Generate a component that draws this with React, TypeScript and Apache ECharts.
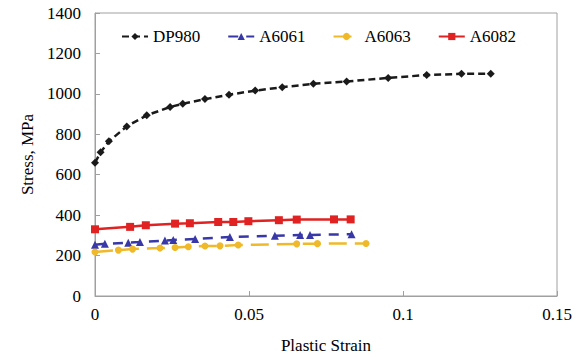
import React, { useEffect, useRef } from "react";
import * as echarts from "echarts";

const dp980Strain = [0, 0.0018, 0.0045, 0.0103, 0.0168, 0.0244, 0.0285, 0.0357, 0.0435, 0.052, 0.0608, 0.0709, 0.0817, 0.0952, 0.1077, 0.119, 0.1285];
const dp980Stress = [659, 711, 765, 839, 894, 935, 951, 974, 996, 1016, 1033, 1050, 1061, 1079, 1093, 1099, 1099];

const a6061Strain = [0, 0.0032, 0.0108, 0.0146, 0.0227, 0.0254, 0.0325, 0.0438, 0.0584, 0.0666, 0.0698, 0.0833];
const a6061Stress = [254, 258, 264, 267, 274, 277, 282, 292, 298, 302, 302, 306];

const a6063Strain = [0, 0.0076, 0.0122, 0.0211, 0.026, 0.0303, 0.0357, 0.0406, 0.0465, 0.0655, 0.0722, 0.088];
const a6063Stress = [218, 227, 232, 237, 240, 244, 247, 248, 252, 258, 259, 260];

const a6082Strain = [0, 0.0114, 0.0165, 0.026, 0.0308, 0.04, 0.0449, 0.0498, 0.0597, 0.0655, 0.0776, 0.083];
const a6082Stress = [330, 342, 350, 358, 360, 366, 366, 370, 375, 378, 379, 379];

const seriesNames = ["DP980", "A6061", "A6063", "A6082"];

const pair = (xs: number[], ys: number[]) => xs.map((x, i) => [x, ys[i]]);

export default function App() {
  const ref = useRef<HTMLDivElement>(null);
  useEffect(() => {
    if (!ref.current) return;
    const chart = echarts.init(ref.current, null, { renderer: "svg" });
    const font = "Liberation Serif";
    chart.setOption({
      animation: false,
      backgroundColor: "#fff",
      textStyle: { fontFamily: font },
      grid: {
        left: 95,
        right: 19,
        top: 13,
        bottom: 62,
        show: true,
        borderColor: "#a0a0a0",
        borderWidth: 1,
      },
      legend: {
        data: seriesNames,
        left: 116,
        top: 23,
        itemWidth: 26,
        itemHeight: 9,
        itemGap: 27,
        textStyle: { fontFamily: font, fontSize: 17, color: "#000" },
      },
      xAxis: {
        type: "value",
        min: 0,
        max: 0.15,
        interval: 0.05,
        name: "Plastic Strain",
        nameLocation: "middle",
        nameGap: 41,
        nameTextStyle: { fontFamily: font, fontSize: 17, color: "#000" },
        axisLine: { show: true, lineStyle: { color: "#a0a0a0", width: 1 } },
        axisTick: { show: true, inside: true, length: 5, lineStyle: { color: "#a0a0a0" } },
        axisLabel: { fontFamily: font, fontSize: 17, color: "#000", margin: 10 },
        splitLine: { show: false },
      },
      yAxis: {
        type: "value",
        min: 0,
        max: 1400,
        interval: 200,
        name: "Stress, MPa",
        nameLocation: "middle",
        nameGap: 58,
        nameTextStyle: { fontFamily: font, fontSize: 17, color: "#000" },
        axisLine: { show: true, lineStyle: { color: "#a0a0a0", width: 1 } },
        axisTick: { show: true, inside: true, length: 5, lineStyle: { color: "#a0a0a0" } },
        axisLabel: { fontFamily: font, fontSize: 17, color: "#000", margin: 14, formatter: (v: number) => String(v) },
        splitLine: { show: false },
      },
      series: [
        {
          name: "DP980",
          type: "line",
          data: pair(dp980Strain, dp980Stress),
          symbol: "diamond",
          symbolSize: 8,
          itemStyle: { color: "#1a1a1a" },
          lineStyle: { color: "#1a1a1a", width: 2.5, type: [7, 4] },
        },
        {
          name: "A6061",
          type: "line",
          data: pair(a6061Strain, a6061Stress),
          symbol: "triangle",
          symbolSize: 8,
          itemStyle: { color: "#3838a8" },
          lineStyle: { color: "#3838a8", width: 2.5, type: [10, 8] },
        },
        {
          name: "A6063",
          type: "line",
          data: pair(a6063Strain, a6063Stress),
          symbol: "circle",
          symbolSize: 7,
          itemStyle: { color: "#efb92a" },
          lineStyle: { color: "#efb92a", width: 2.5, type: [18, 8] },
        },
        {
          name: "A6082",
          type: "line",
          data: pair(a6082Strain, a6082Stress),
          symbol: "rect",
          symbolSize: 8,
          itemStyle: { color: "#e02222" },
          lineStyle: { color: "#e02222", width: 2.5, type: "solid" },
        },
      ],
    });
    return () => chart.dispose();
  }, []);
  return <div ref={ref} style={{ width: 576, height: 359, position: "absolute", left: 0, top: 0 }} />;
}
